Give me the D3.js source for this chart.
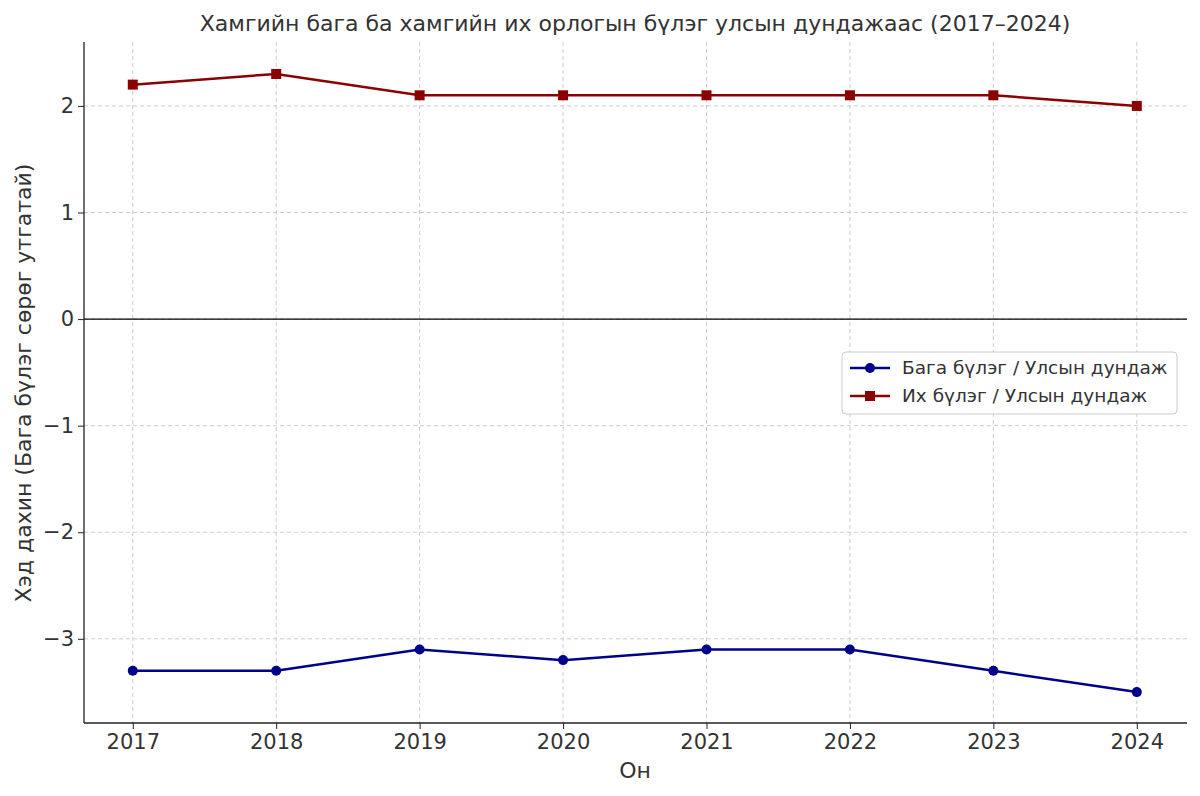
<!DOCTYPE html>
<html><head><meta charset="utf-8">
<script src="https://cdn.jsdelivr.net/npm/d3@7"></script>
<style>body{margin:0;background:#fff}text{font-family:"DejaVu Sans",sans-serif;fill:#333}</style>
</head><body><svg id="c" width="1200" height="796"></svg>
<script>
const years=[2017,2018,2019,2020,2021,2022,2023,2024];
const lowRatio=[-3.3,-3.3,-3.1,-3.2,-3.1,-3.1,-3.3,-3.5];
const highRatio=[2.2,2.3,2.1,2.1,2.1,2.1,2.1,2.0];
const yTicks=[-3,-2,-1,0,1,2];
const seriesNames=["Бага бүлэг / Улсын дундаж","Их бүлэг / Улсын дундаж"];
const title="Хамгийн бага ба хамгийн их орлогын бүлэг улсын дундажаас (2017–2024)";
const svg=d3.select("#c");
const L=84,R=1187,T=42,B=723;
const x=d3.scaleLinear().domain([2016.66,2024.35]).range([L,R]);
const y=d3.scaleLinear().domain([-3.79,2.6]).range([B,T]);
svg.append("g").selectAll("line").data(years).join("line").attr("x1",d=>x(d)).attr("x2",d=>x(d)).attr("y1",T).attr("y2",B).attr("stroke","#ccc").attr("stroke-dasharray","4,3");
svg.append("g").selectAll("line").data(yTicks).join("line").attr("x1",L).attr("x2",R).attr("y1",d=>y(d)).attr("y2",d=>y(d)).attr("stroke","#ccc").attr("stroke-dasharray","4,3");
svg.append("line").attr("x1",L).attr("x2",R).attr("y1",y(0)).attr("y2",y(0)).attr("stroke","#000").attr("stroke-width",1.3);
const xa=svg.append("g").attr("transform",`translate(0,${B})`).call(d3.axisBottom(x).tickValues(years).tickFormat(d3.format("d")).tickSizeOuter(0).tickSize(6));
const ya=svg.append("g").attr("transform",`translate(${L},0)`).call(d3.axisLeft(y).tickValues(yTicks).tickFormat(d=>d<0?"−"+Math.abs(d):d).tickSizeOuter(0).tickSize(6));
[xa,ya].forEach(a=>{a.selectAll("text").style("font-size","21px").attr("fill","#222");a.select(".domain").attr("stroke","#222").attr("stroke-width",1.3);a.selectAll(".tick line").attr("stroke","#222");});
xa.select(".domain").attr("d",`M${L},0H${R}`);ya.select(".domain").attr("d",`M0,${B}V${T}`);
xa.selectAll("text").attr("dy","0.8em");
ya.selectAll("text").attr("x",-10);
const line=d3.line().x((d,i)=>x(years[i])).y(d=>y(d));
const cols=["#00008B","#8B0000"];
[lowRatio,highRatio].forEach((s,k)=>{
 svg.append("path").datum(s).attr("d",line).attr("fill","none").attr("stroke",cols[k]).attr("stroke-width",2.5);
 if(k==0) svg.append("g").selectAll("circle").data(s).join("circle").attr("cx",(d,i)=>x(years[i])).attr("cy",d=>y(d)).attr("r",5).attr("fill",cols[k]);
 else svg.append("g").selectAll("rect").data(s).join("rect").attr("x",(d,i)=>x(years[i])-5).attr("y",d=>y(d)-5).attr("width",10).attr("height",10).attr("fill",cols[k]);
});
svg.append("text").attr("x",635).attr("y",31).attr("text-anchor","middle").style("font-size","22px").text(title);
svg.append("text").attr("x",635).attr("y",778).attr("text-anchor","middle").style("font-size","22px").text("Он");
svg.append("text").attr("transform","translate(31,383) rotate(-90)").attr("text-anchor","middle").style("font-size","22px").text("Хэд дахин (Бага бүлэг сөрөг утгатай)");
const lg=svg.append("g");
lg.append("rect").attr("x",842).attr("y",352).attr("width",335).attr("height",62).attr("rx",4).attr("fill","#fff").attr("stroke","#ccc");
seriesNames.forEach((n,k)=>{const yy=368+k*28;
 lg.append("line").attr("x1",850).attr("x2",890).attr("y1",yy).attr("y2",yy).attr("stroke",cols[k]).attr("stroke-width",2.5);
 if(k==0) lg.append("circle").attr("cx",870).attr("cy",yy).attr("r",5).attr("fill",cols[k]);
 else lg.append("rect").attr("x",865).attr("y",yy-5).attr("width",10).attr("height",10).attr("fill",cols[k]);
 lg.append("text").attr("x",902).attr("y",yy+6).style("font-size",  "18.5px").text(n);
});
</script></body></html>
